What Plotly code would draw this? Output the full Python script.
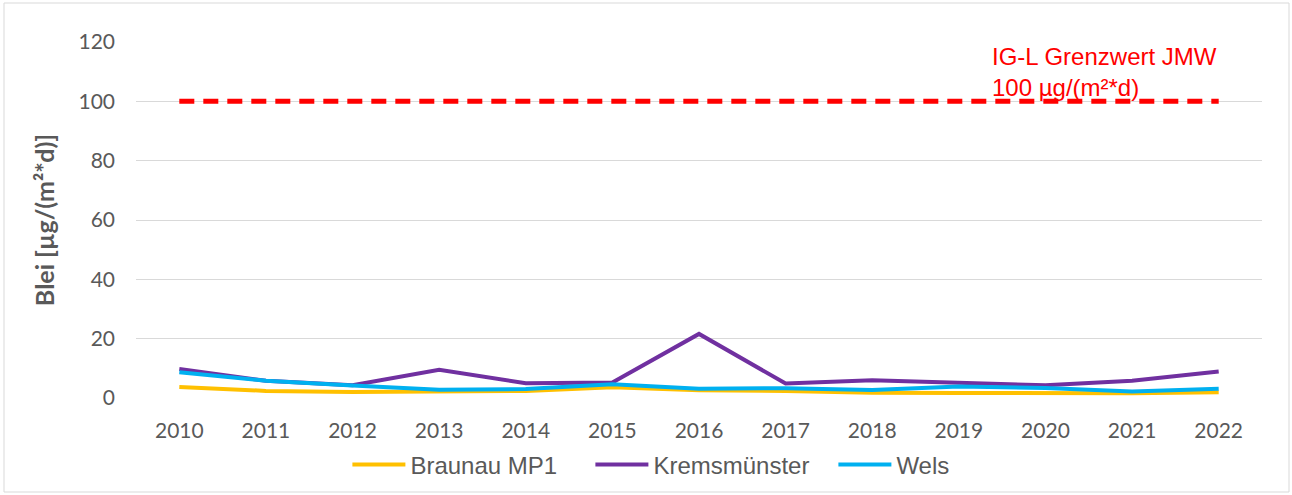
import plotly.graph_objects as go

years = ["2010", "2011", "2012", "2013", "2014", "2015", "2016",
         "2017", "2018", "2019", "2020", "2021", "2022"]
braunau = [3.7, 2.4, 2.0, 2.2, 2.4, 3.6, 2.6, 2.4, 1.8, 1.7, 1.6, 1.6, 1.9]
krems = [9.8, 5.8, 4.3, 9.5, 5.0, 5.2, 21.6, 4.9, 6.0, 5.3, 4.3, 5.8, 8.9]
wels = [8.7, 5.8, 4.2, 2.8, 3.0, 4.6, 3.1, 3.3, 2.7, 3.9, 3.4, 2.2, 3.1]
limit = [100] * len(years)
yticks = [0, 20, 40, 60, 80, 100, 120]

tickfont = dict(family="Lato", size=21, color="#595959")

fig = go.Figure()
fig.add_trace(go.Scatter(x=years, y=limit, mode="lines", showlegend=False,
                         line=dict(color="#FF0000", width=5, dash="15px,9px"),
                         hoverinfo="skip"))
fig.add_trace(go.Scatter(x=years, y=braunau, mode="lines", name="Braunau MP1",
                         line=dict(color="#FFC000", width=4)))
fig.add_trace(go.Scatter(x=years, y=krems, mode="lines", name="Kremsmünster",
                         line=dict(color="#7030A0", width=4)))
fig.add_trace(go.Scatter(x=years, y=wels, mode="lines", name="Wels",
                         line=dict(color="#00B0F0", width=4)))

fig.add_annotation(text="IG-L Grenzwert JMW<br>100 µg/(m²*d)", xref="paper", yref="paper",
                   x=(990 - 136) / 1126, y=(398 - 41) / 356, xanchor="left", yanchor="top",
                   showarrow=False, align="left",
                   font=dict(family="Liberation Sans", size=24, color="#FF0000"))

# outer border
fig.add_shape(type="rect", xref="paper", yref="paper",
              x0=(4 - 136) / 1126, x1=(1289 - 136) / 1126,
              y0=(398 - 492) / 356, y1=(398 - 3) / 356,
              line=dict(color="#D9D9D9", width=1), fillcolor="rgba(0,0,0,0)",
              layer="below")

fig.update_layout(
    width=1292, height=495,
    margin=dict(l=136, r=30, t=42, b=97, autoexpand=False),
    paper_bgcolor="white", plot_bgcolor="white",
    showlegend=True,
    legend=dict(orientation="h", xref="container", yref="container",
                x=0.551, y=1 - 465 / 495, xanchor="center", yanchor="middle",
                font=dict(family="Liberation Sans", size=24, color="#595959"),
                itemwidth=53, entrywidth=175, traceorder="normal"),
    xaxis=dict(type="category", range=[-0.5, 12.5], showgrid=False, showline=False,
               zeroline=False, ticks="", tickfont=tickfont, ticklabelstandoff=18),
    yaxis=dict(range=[0, 120], tickvals=yticks, ticktext=[str(v) for v in yticks],
               showgrid=True, gridcolor="#D9D9D9", gridwidth=1, zeroline=False,
               ticks="", tickfont=tickfont, ticklabelstandoff=20,
               title=dict(text="Blei [µg/(m²*d)]", standoff=16,
                          font=dict(family="Lato", size=25, color="#595959",
                                    weight="bold"))),
)

fig.write_html("out.html", config={"displayModeBar": False},
               post_script="document.body.style.margin='0';")
